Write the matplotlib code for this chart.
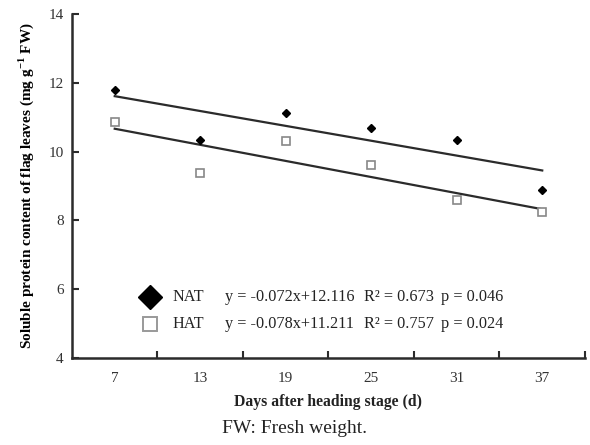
import matplotlib
matplotlib.use("Agg")
import matplotlib.pyplot as plt
import numpy as np

plt.rcParams['font.family'] = ['Liberation Serif', 'DejaVu Serif']

days = [7, 13, 19, 25, 31, 37]
nat = [11.80, 10.35, 11.12, 10.70, 10.35, 8.87]
hat = [10.87, 9.38, 10.32, 9.60, 8.58, 8.23]
nat_fit = (-0.072, 12.116)
hat_fit = (-0.078, 11.211)
nat_text = ["NAT", "y = -0.072x+12.116", "R\u00b2 = 0.673", "p = 0.046"]
hat_text = ["HAT", "y = -0.078x+11.211", "R\u00b2 = 0.757", "p = 0.024"]

fig = plt.figure(figsize=(5.9, 4.45), dpi=100)
ax = fig.add_axes([0.122, 0.1955, 0.8695, 0.773])

dark = '#2b2b2b'
d = np.array(days)
ax.plot(d, nat_fit[0] * d + nat_fit[1], color=dark, lw=1.6, zorder=2)
ax.plot(d, hat_fit[0] * d + hat_fit[1], color=dark, lw=1.6, zorder=2)
ax.plot(days, nat, linestyle='none', marker='D', ms=4.5, color='black', zorder=3)
ax.plot(days, hat, linestyle='none', marker='s', ms=6, mfc='white', mec='#888888', mew=1.2, zorder=3)

ax.set_xlim(4, 40)
ax.set_ylim(4, 14)
ax.set_yticks([4, 6, 8, 10, 12, 14])
ax.set_xticks([10, 16, 22, 28, 34, 40])
ax.set_xticklabels([])
for dd in days:
    ax.text(dd, -0.04, str(dd), transform=ax.get_xaxis_transform(), ha='center', va='top', fontsize=11, color='#333333')
ax.tick_params(axis='both', direction='in', length=5, width=1.5, colors=dark, labelsize=11)
ax.tick_params(axis='y', pad=6, labelcolor='#333333')
for s in ['top', 'right']:
    ax.spines[s].set_visible(False)
for s in ['left', 'bottom']:
    ax.spines[s].set_linewidth(1.8)
    ax.spines[s].set_color(dark)

ax.set_ylabel('Soluble protein content of flag leaves (mg g$^{\\mathregular{-1}}$ FW)', fontsize=11, fontweight='bold', labelpad=9)
ax.text(0.5, -0.105, 'Days after heading stage (d)', transform=ax.transAxes, ha='center', va='top', fontsize=11.3, fontweight='bold', color='#222222')
fig.text(0.5, 0.038, 'FW: Fresh weight.', ha='center', va='center', fontsize=14, color='#222222')

# legend
ax.plot([0.152], [0.178], transform=ax.transAxes, marker='D', ms=12, color='black', linestyle='none', clip_on=False)
ax.plot([0.152], [0.099], transform=ax.transAxes, marker='s', ms=9.5, mfc='white', mec='#999999', mew=1.4, linestyle='none', clip_on=False)
xs = [0.195, 0.299, 0.57, 0.72]
for yy, txt in [(0.178, nat_text), (0.099, hat_text)]:
    for xx, t in zip(xs, txt):
        ax.text(xx, yy, t, transform=ax.transAxes, ha='left', va='center', fontsize=11.7, color='#222222')

fig.savefig('out.png', dpi=100)
